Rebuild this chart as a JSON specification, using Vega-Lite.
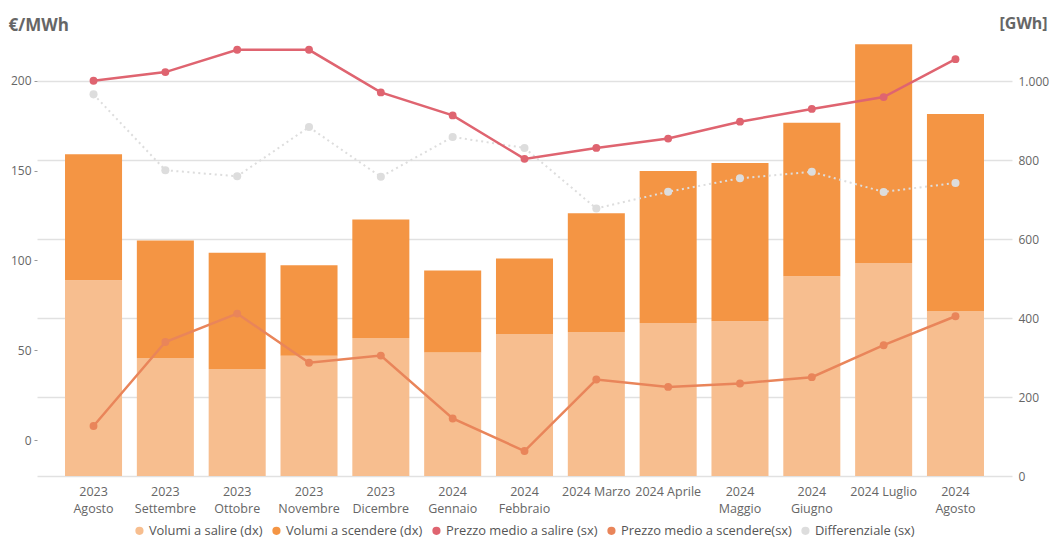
{
  "$schema": "https://vega.github.io/schema/vega-lite/v6.json",
  "width": 975,
  "height": 442,
  "autosize": {"type": "none"},
  "padding": {"left": 37, "top": 34, "right": 39, "bottom": 65},
  "config": {
    "font": "Open Sans",
    "view": {"stroke": null},
    "axis": {"labelFont": "Open Sans", "labelColor": "#666666", "labelFontSize": 12},
    "legend": {"labelFont": "Open Sans", "labelFontSize": 12.9, "labelColor": "#555555", "labelLimit": 400, "symbolType": "circle", "symbolSize": 45, "labelOffset": 3, "columnPadding": 7}
  },
  "data": {
    "values": [
      {"mese": "2023|Agosto", "Volumi a salire (dx)": 496, "Volumi a scendere (dx)": 319, "Prezzo medio a salire (sx)": 200.0, "Prezzo medio a scendere(sx)": 7.8, "Differenziale (sx)": 192.4},
      {"mese": "2023|Settembre", "Volumi a salire (dx)": 299, "Volumi a scendere (dx)": 298, "Prezzo medio a salire (sx)": 204.8, "Prezzo medio a scendere(sx)": 54.6, "Differenziale (sx)": 150.2},
      {"mese": "2023|Ottobre", "Volumi a salire (dx)": 271, "Volumi a scendere (dx)": 295, "Prezzo medio a salire (sx)": 217.2, "Prezzo medio a scendere(sx)": 70.4, "Differenziale (sx)": 146.8},
      {"mese": "2023|Novembre", "Volumi a salire (dx)": 305, "Volumi a scendere (dx)": 229, "Prezzo medio a salire (sx)": 217.2, "Prezzo medio a scendere(sx)": 43.0, "Differenziale (sx)": 174.2},
      {"mese": "2023|Dicembre", "Volumi a salire (dx)": 350, "Volumi a scendere (dx)": 300, "Prezzo medio a salire (sx)": 193.5, "Prezzo medio a scendere(sx)": 47.0, "Differenziale (sx)": 146.5},
      {"mese": "2024|Gennaio", "Volumi a salire (dx)": 313, "Volumi a scendere (dx)": 208, "Prezzo medio a salire (sx)": 180.7, "Prezzo medio a scendere(sx)": 12.0, "Differenziale (sx)": 168.7},
      {"mese": "2024|Febbraio", "Volumi a salire (dx)": 360, "Volumi a scendere (dx)": 191, "Prezzo medio a salire (sx)": 156.5, "Prezzo medio a scendere(sx)": -6.1, "Differenziale (sx)": 162.6},
      {"mese": "2024 Marzo", "Volumi a salire (dx)": 365, "Volumi a scendere (dx)": 301, "Prezzo medio a salire (sx)": 162.6, "Prezzo medio a scendere(sx)": 33.7, "Differenziale (sx)": 128.9},
      {"mese": "2024 Aprile", "Volumi a salire (dx)": 388, "Volumi a scendere (dx)": 385, "Prezzo medio a salire (sx)": 167.8, "Prezzo medio a scendere(sx)": 29.6, "Differenziale (sx)": 138.2},
      {"mese": "2024|Maggio", "Volumi a salire (dx)": 392, "Volumi a scendere (dx)": 401, "Prezzo medio a salire (sx)": 177.2, "Prezzo medio a scendere(sx)": 31.5, "Differenziale (sx)": 145.7},
      {"mese": "2024|Giugno", "Volumi a salire (dx)": 506, "Volumi a scendere (dx)": 389, "Prezzo medio a salire (sx)": 184.3, "Prezzo medio a scendere(sx)": 35.0, "Differenziale (sx)": 149.3},
      {"mese": "2024 Luglio", "Volumi a salire (dx)": 540, "Volumi a scendere (dx)": 554, "Prezzo medio a salire (sx)": 190.9, "Prezzo medio a scendere(sx)": 52.8, "Differenziale (sx)": 138.1},
      {"mese": "2024|Agosto", "Volumi a salire (dx)": 418, "Volumi a scendere (dx)": 499, "Prezzo medio a salire (sx)": 212.0, "Prezzo medio a scendere(sx)": 68.9, "Differenziale (sx)": 143.1}
    ]
  },
  "layer": [
    {
      "transform": [{"fold": ["Volumi a salire (dx)", "Volumi a scendere (dx)"]}],
      "mark": {"type": "bar"},
      "encoding": {
        "x": {
          "field": "mese", "type": "nominal", "sort": null,
          "scale": {"paddingInner": 0.206, "paddingOuter": 0.39},
          "axis": {"title": null, "labelAngle": 0, "labelExpr": "split(datum.value, '|')", "labelFontSize": 12.5, "labelPadding": 9, "labelLineHeight": 17, "domain": false, "ticks": false, "labelBaseline": "top"}
        },
        "y": {
          "field": "value", "type": "quantitative", "stack": "zero",
          "scale": {"domain": [0, 1120], "nice": false, "zero": true},
          "axis": {"orient": "right", "values": [0, 200, 400, 600, 800, 1000], "grid": true, "gridColor": "#E1E1E1", "gridWidth": 1.5, "domain": false, "ticks": false, "labelPadding": 6, "labelExpr": "replace(format(datum.value, ','), ',', '.')", "title": "[GWh]", "titleAngle": 0, "titleAlign": "left", "titleBaseline": "alphabetic", "titleX": -13, "titleY": -6, "titleFontSize": 16, "titleFontWeight": "bold", "titleColor": "#666666", "titleFont": "Open Sans"}
        },
        "color": {
          "field": "key", "type": "nominal",
          "scale": {"domain": ["Volumi a salire (dx)", "Volumi a scendere (dx)", "Prezzo medio a salire (sx)", "Prezzo medio a scendere(sx)", "Differenziale (sx)"], "range": ["#F7BE8F", "#F49544", "#DF6470", "#E9855A", "#DDDDDD"]},
          "legend": {"title": null, "orient": "none", "legendX": 96, "legendY": 490, "direction": "horizontal", "encode": {"symbols": {"update": {"fill": {"scale": "color", "field": "value"}, "stroke": {"value": "transparent"}, "opacity": {"value": 1}}}}}
        },
        "order": {"field": "key", "sort": "ascending"}
      }
    },
    {
      "encoding": {
        "x": {"field": "mese", "type": "nominal", "sort": null},
        "y": {
          "field": "value", "type": "quantitative",
          "scale": {"domain": [-20, 226], "nice": false, "zero": false},
          "axis": {"orient": "left", "values": [0, 50, 100, 150, 200], "grid": false, "domain": false, "ticks": true, "tickSize": 3, "tickColor": "#999999", "labelPadding": 3, "title": "€/MWh", "titleAngle": 0, "titleAlign": "left", "titleBaseline": "alphabetic", "titleX": -29, "titleY": -4, "titleFontSize": 17, "titleFontWeight": "bold", "titleColor": "#666666", "titleFont": "Open Sans"}
        }
      },
      "layer": [
        {
          "transform": [{"fold": ["Differenziale (sx)"]}],
          "mark": {"type": "line", "strokeWidth": 2, "strokeDash": [2, 3.5], "point": {"filled": true, "size": 65}},
          "encoding": {"color": {"field": "key", "type": "nominal"}}
        },
        {
          "transform": [{"fold": ["Prezzo medio a scendere(sx)"]}],
          "mark": {"type": "line", "strokeWidth": 2.5, "point": {"filled": true, "size": 62}},
          "encoding": {"color": {"field": "key", "type": "nominal"}}
        },
        {
          "transform": [{"fold": ["Prezzo medio a salire (sx)"]}],
          "mark": {"type": "line", "strokeWidth": 2.5, "point": {"filled": true, "size": 62}},
          "encoding": {"color": {"field": "key", "type": "nominal"}}
        }
      ]
    }
  ],
  "resolve": {"scale": {"y": "independent"}}
}
